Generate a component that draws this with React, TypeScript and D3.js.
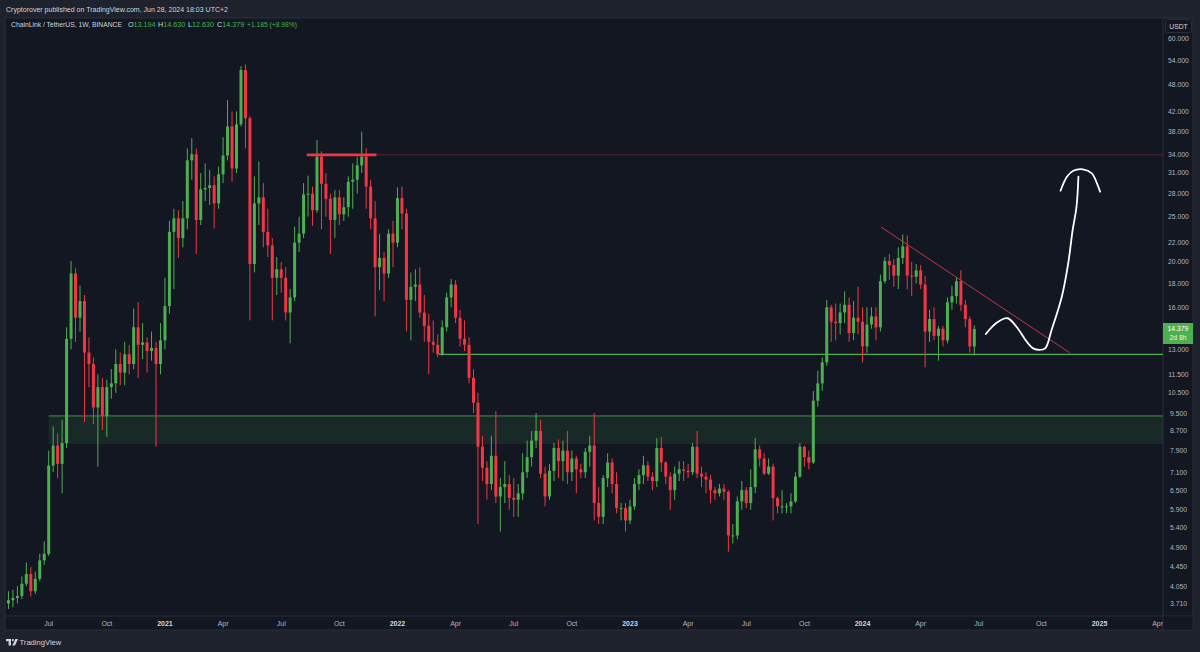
import React from "react";
import * as d3 from "d3";

// weekly candles, LINK/USDT on Binance, first bar week of 4 May 2020, last 24 Jun 2024
const firstWeek = new Date(Date.UTC(2020, 4, 4));
const lastWeek = new Date(Date.UTC(2024, 5, 24));
const firstOpen = 3.72; // later opens are the previous week's close

const close2020 = [3.78, 3.82, 3.86, 4.1, 4.3, 3.95, 4.2, 4.6, 4.75, 7.34,
  8.1, 7.4, 8.2, 13.7, 18.9, 15.2, 16.5, 12.8, 12.1, 9.77,
  10.8, 9.37, 10.8, 11.0, 12.1, 11.6, 12.7, 12.1, 14.5, 13.3,
  13.45, 12.9, 13.1, 12.1, 13.6];
const high2020 = [3.95, 3.98, 4.05, 4.25, 4.55, 4.45, 4.35, 4.75, 5.05, 7.9,
  8.9, 8.6, 9.2, 14.5, 20.1, 19.4, 17.8, 17.0, 13.8, 12.5,
  11.5, 11.3, 11.2, 11.8, 13.0, 12.8, 13.5, 13.3, 15.9, 16.4,
  14.8, 13.8, 14.2, 13.5, 14.8];
const low2020 = [3.62, 3.65, 3.72, 3.8, 4.05, 3.85, 3.9, 4.15, 4.5, 4.7,
  7.1, 6.9, 6.4, 8.0, 13.0, 13.5, 14.2, 9.1, 10.8, 9.0,
  7.3, 8.75, 8.45, 10.2, 10.5, 10.9, 10.9, 11.5, 11.8, 11.3,
  12.4, 11.6, 12.3, 8.05, 11.5];

const close2021 = [16.1, 23.2, 24.8, 22.5, 24.8, 33.0, 34.0, 24.6, 28.6, 28.8,
  29.2, 26.7, 30.8, 33.8, 39.0, 31.7, 39.4, 51.5, 40.6, 19.8,
  26.7, 27.5, 23.2, 21.7, 18.5, 19.3, 18.5, 15.6, 16.8, 22.0,
  23.0, 27.9, 28.0, 25.8, 33.6, 29.4, 27.3, 24.6, 27.5, 25.3,
  26.2, 29.7, 30.0, 32.2, 33.6, 29.0, 24.8, 19.5, 20.4, 18.9,
  23.0, 22.0];
const high2021 = [18.5, 24.5, 26.0, 25.8, 27.0, 35.0, 36.8, 35.0, 31.0, 32.5,
  31.5, 30.5, 32.0, 37.0, 44.4, 42.0, 42.0, 52.5, 52.9, 41.0,
  30.5, 32.8, 29.5, 26.0, 22.5, 20.5, 20.0, 19.5, 17.5, 23.8,
  25.0, 29.5, 30.6, 29.0, 36.5, 34.5, 31.0, 28.0, 28.5, 28.5,
  27.5, 30.5, 32.5, 33.5, 38.0, 35.0, 30.0, 27.0, 23.0, 21.0,
  23.5, 24.5];
const low2021 = [13.0, 15.5, 17.5, 20.4, 21.5, 23.5, 30.0, 20.8, 24.0, 27.0,
  26.5, 23.6, 26.0, 29.5, 33.0, 29.7, 31.0, 39.0, 35.0, 15.0,
  19.0, 24.0, 21.5, 20.5, 15.0, 17.0, 17.2, 15.0, 13.4, 16.5,
  21.0, 22.5, 25.0, 23.9, 25.5, 23.5, 25.0, 20.8, 22.5, 24.0,
  24.5, 25.0, 26.0, 28.0, 31.0, 26.0, 23.5, 15.3, 17.4, 16.5,
  18.5, 19.5];

const close2022 = [27.4, 25.4, 16.6, 17.7, 17.9, 15.6, 14.6, 13.5, 13.3, 12.7,
  14.5, 16.8, 17.9, 15.2, 13.7, 13.3, 11.3, 10.0, 8.05, 7.26,
  6.7, 7.7, 6.3, 6.6, 6.7, 6.26, 6.2, 6.4, 7.1, 7.65,
  8.3, 8.7, 7.05, 6.3, 7.15, 8.0, 7.5, 7.9, 7.1, 7.6,
  7.2, 7.1, 7.85, 8.1, 6.1, 5.7, 6.9, 7.45, 6.7, 5.95,
  5.95, 5.6];
const high2022 = [28.9, 29.0, 26.0, 19.0, 19.3, 19.5, 17.0, 15.5, 15.0, 14.0,
  15.0, 17.2, 18.4, 18.3, 15.8, 15.0, 13.8, 11.8, 10.5, 8.5,
  7.5, 8.5, 9.6, 6.9, 7.5, 7.0, 6.9, 6.7, 7.8, 8.3,
  8.7, 9.5, 9.2, 7.3, 7.4, 8.2, 8.35, 8.3, 8.7, 7.9,
  7.7, 7.4, 8.0, 8.5, 9.5, 6.6, 7.0, 7.8, 7.6, 7.1,
  6.1, 6.1];
const low2022 = [21.5, 23.5, 14.2, 13.6, 16.5, 15.2, 13.5, 11.5, 12.8, 12.5,
  12.6, 14.2, 16.0, 14.8, 13.2, 12.9, 11.0, 9.5, 5.5, 6.8,
  6.2, 6.5, 6.1, 5.3, 6.1, 5.9, 5.7, 5.7, 6.2, 6.9,
  7.3, 8.0, 6.9, 6.0, 6.2, 6.8, 6.9, 6.8, 6.7, 6.8,
  6.4, 6.9, 6.9, 7.3, 5.6, 5.5, 5.5, 6.6, 6.4, 5.8,
  5.6, 5.3];

const close2023 = [6.0, 6.7, 7.0, 7.35, 6.95, 6.8, 8.0, 7.45, 6.95, 6.5,
  7.05, 7.2, 7.15, 7.1, 8.05, 7.05, 6.95, 6.85, 6.5, 6.4,
  6.55, 6.45, 5.2, 5.2, 6.15, 6.5, 6.1, 6.6, 7.95, 7.6,
  7.05, 7.3, 6.25, 6.0, 6.0, 6.0, 6.15, 6.95, 8.05, 7.65,
  7.45, 10.1, 11.0, 12.2, 16.0, 14.9, 14.8, 15.6, 16.2, 14.1,
  15.2, 14.9];
const high2023 = [6.2, 6.9, 7.2, 7.7, 7.5, 7.1, 8.4, 8.45, 7.5, 7.1,
  7.3, 7.5, 7.5, 7.4, 8.2, 8.7, 7.3, 7.1, 7.0, 6.6,
  6.7, 6.7, 6.5, 5.5, 6.3, 6.8, 6.6, 7.2, 8.4, 8.1,
  7.8, 7.6, 7.4, 6.3, 6.5, 6.1, 6.4, 7.1, 8.2, 8.1,
  7.9, 10.6, 11.7, 12.5, 16.6, 16.2, 16.3, 16.3, 17.3, 16.8,
  16.5, 17.7];
const low2023 = [5.5, 5.9, 6.5, 6.7, 6.8, 6.5, 6.6, 7.1, 6.7, 5.9,
  6.2, 6.8, 6.8, 6.9, 7.0, 6.9, 6.6, 6.4, 6.1, 6.2,
  6.3, 6.2, 4.8, 5.0, 5.1, 5.9, 5.95, 5.9, 6.4, 7.3,
  7.0, 7.0, 5.6, 5.8, 5.8, 5.8, 5.8, 6.1, 6.9, 7.3,
  7.2, 7.4, 9.8, 10.6, 12.0, 13.5, 13.6, 14.0, 14.8, 13.5,
  13.6, 14.0];

const close2024 = [13.2, 14.7, 15.3, 14.5, 18.2, 20.1, 19.7, 18.7, 20.4, 21.6,
  18.7, 18.6, 19.2, 17.9, 14.2, 15.1, 13.9, 14.4, 13.6, 16.4,
  16.9, 18.2, 16.2, 15.1, 13.194, 14.379];
const high2024 = [16.0, 16.0, 16.0, 16.0, 18.8, 20.5, 20.8, 20.3, 21.5, 22.9,
  22.8, 20.0, 19.8, 19.7, 18.7, 15.8, 16.0, 14.6, 14.6, 16.8,
  17.8, 18.5, 19.2, 16.6, 15.3, 14.63];
const low2024 = [12.2, 12.8, 14.4, 13.6, 14.2, 18.0, 18.3, 17.7, 17.5, 19.8,
  17.5, 16.9, 18.0, 17.5, 11.9, 13.5, 13.6, 12.3, 13.2, 13.4,
  15.8, 16.3, 15.7, 14.5, 12.8, 12.63];

const priceTicks = [60, 54, 48, 42, 38, 34, 31, 28, 25, 22, 20, 18, 16, 13,
  11.5, 10.5, 9.5, 8.7, 7.9, 7.1, 6.5, 5.9, 5.4, 4.9, 4.45, 4.05, 3.71];

const timeTickDates = ["2020-07-06", "2020-10-05", "2021-01-04", "2021-04-05", "2021-07-05",
  "2021-10-04", "2022-01-03", "2022-04-04", "2022-07-04", "2022-10-03", "2023-01-02",
  "2023-04-03", "2023-07-03", "2023-10-02", "2024-01-01", "2024-04-01", "2024-07-01",
  "2024-10-07", "2025-01-06", "2025-04-07"];
const timeTickLabels = ["Jul", "Oct", "2021", "Apr", "Jul", "Oct", "2022", "Apr", "Jul", "Oct",
  "2023", "Apr", "Jul", "Oct", "2024", "Apr", "Jul", "Oct", "2025", "Apr"];

// hand drawn path after the last bar: [days after last bar, price]
const squiggle = [[18, 14.03], [35, 14.83], [52, 15.16], [66, 14.54], [82, 13.51], [92, 13.07],
  [102, 12.97], [111, 13.07], [121, 14.31], [137, 16.86], [147, 19.87], [154, 23.42],
  [160, 26.26], [163, 30.45]];
const squiggleCap = [[135, 28.42], [145, 30.45], [155, 31.36], [170, 31.58], [184, 30.96],
  [192, 29.47], [197, 28.28]];

const UP = "#4caf50";
const DOWN = "#f23645";
const FONT = "'Liberation Sans', Arial, sans-serif";

const utc = (s: string) => new Date(s + "T00:00:00Z");

const App: React.FC = () => {
  const W = 1200;
  const H = 652;
  const pane = { x0: 5, x1: 1163, y0: 18, y1: 616 };

  const closes = [...close2020, ...close2021, ...close2022, ...close2023, ...close2024];
  const highs = [...high2020, ...high2021, ...high2022, ...high2023, ...high2024];
  const lows = [...low2020, ...low2021, ...low2022, ...low2023, ...low2024];
  const weeks = d3.utcMonday.range(firstWeek, d3.utcDay.offset(lastWeek, 1));
  const bars = weeks.map((d, i) => ({
    d,
    o: i === 0 ? firstOpen : closes[i - 1],
    c: closes[i],
    h: highs[i],
    l: lows[i],
  }));

  const x = d3.scaleUtc().domain([utc("2020-07-06"), lastWeek]).range([48.7, 974.3]);
  const y = d3.scaleLog().domain([3.71, 60]).range([604, 39]);
  const after = (days: number) => x(lastWeek.getTime() + days * 864e5);

  const line = d3.line<number[]>()
    .x((p) => after(p[0]))
    .y((p) => y(p[1]))
    .curve(d3.curveCatmullRom.alpha(0.5));

  const last = bars[bars.length - 1];
  const bodyW = 3;
  const chg = last.c - last.o;

  return (
    <svg width={W} height={H} style={{ position: "fixed", left: 0, top: 0 }} fontFamily={FONT}>
      <defs>
        <clipPath id="pane">
          <rect x={pane.x0} y={pane.y0} width={pane.x1 - pane.x0} height={pane.y1 - pane.y0} />
        </clipPath>
      </defs>
      <rect width={W} height={H} fill="#1e222d" />
      <text x={6} y={12} fontSize={7.3} fill="#d1d4dc" textLength={222} lengthAdjust="spacingAndGlyphs">
        Cryptorover published on TradingView.com, Jun 28, 2024 18:03 UTC+2
      </text>

      {/* chart pane + axes */}
      <rect x={pane.x0} y={pane.y0} width={1193 - pane.x0} height={630 - pane.y0} fill="#131722" stroke="#2a2e39" />
      <line x1={pane.x1} x2={pane.x1} y1={pane.y0} y2={630} stroke="#2a2e39" />
      <line x1={pane.x0} x2={1193} y1={pane.y1} y2={pane.y1} stroke="#2a2e39" />

      <g clipPath="url(#pane)">
        {/* support zone */}
        <rect x={x(utc("2020-07-06"))} width={pane.x1 - x(utc("2020-07-06"))}
          y={y(9.37)} height={y(8.16) - y(9.37)} fill="#4caf50" fillOpacity={0.12} />
        <line x1={x(utc("2020-07-06"))} x2={pane.x1} y1={y(9.37)} y2={y(9.37)} stroke={UP} strokeWidth={1} strokeOpacity={0.8} />

        {/* resistance 34 */}
        <line x1={x(utc("2021-12-01"))} x2={pane.x1} y1={y(33.9)} y2={y(33.9)} stroke={DOWN} strokeOpacity={0.35} strokeWidth={1} />

        {/* support 12.7 */}
        <line x1={x(utc("2022-03-09"))} x2={pane.x1} y1={y(12.69)} y2={y(12.69)} stroke={UP} strokeWidth={1.3} />

        {bars.map((b, i) => {
          const cx = x(b.d);
          const col = b.c >= b.o ? UP : DOWN;
          const top = y(Math.max(b.o, b.c));
          const bot = y(Math.min(b.o, b.c));
          return (
            <g key={i}>
              <line x1={cx} x2={cx} y1={y(b.h)} y2={y(b.l)} stroke={col} strokeWidth={1} />
              <rect x={cx - bodyW / 2} y={top} width={bodyW} height={Math.max(1, bot - top)} fill={col} />
            </g>
          );
        })}

        <line x1={x(utc("2021-08-14"))} x2={x(utc("2021-12-01"))} y1={y(33.9)} y2={y(33.9)} stroke={DOWN} strokeWidth={2.6} />

        {/* falling trendline */}
        <line x1={x(utc("2024-01-30"))} y1={y(23.76)} x2={x(utc("2024-11-20"))} y2={y(12.8)}
          stroke="#e0404e" strokeWidth={1} strokeOpacity={0.85} />

        <path d={line(squiggle) || ""} fill="none" stroke="#ffffff" strokeWidth={1.8} strokeLinecap="round" strokeLinejoin="round" />
        <path d={line(squiggleCap) || ""} fill="none" stroke="#ffffff" strokeWidth={1.8} strokeLinecap="round" />
      </g>

      {/* legend */}
      <g fontSize={7.2}>
        <text x={11} y={27} fill="#d1d4dc" textLength={111} lengthAdjust="spacingAndGlyphs">
          ChainLink / TetherUS, 1W, BINANCE
        </text>
        <text x={128} y={27} fill="#d1d4dc">O<tspan fill={UP}>{last.o.toFixed(3)}</tspan></text>
        <text x={158} y={27} fill="#d1d4dc">H<tspan fill={UP}>{last.h.toFixed(3)}</tspan></text>
        <text x={188} y={27} fill="#d1d4dc">L<tspan fill={UP}>{last.l.toFixed(3)}</tspan></text>
        <text x={217} y={27} fill="#d1d4dc">C<tspan fill={UP}>{last.c.toFixed(3)}</tspan></text>
        <text x={247} y={27} fill={UP} textLength={50} lengthAdjust="spacingAndGlyphs">
          {`+${chg.toFixed(3)} (+${((chg / last.o) * 100).toFixed(2)}%)`}
        </text>
      </g>

      {/* price axis */}
      <rect x={1165.5} y={19.5} width={26} height={13} rx={2} fill="#131722" stroke="#2a2e39" />
      <text x={1178.5} y={28.5} fontSize={6.8} fill="#d1d4dc" textAnchor="middle">USDT</text>
      {priceTicks.map((p) => (
        <text key={p} x={1178.5} y={y(p) + 2.4} fontSize={6.8} fill="#b2b5be" textAnchor="middle">
          {p.toFixed(3)}
        </text>
      ))}
      <rect x={1163} y={y(last.c) - 6} width={30} height={21} fill={UP} />
      <text x={1178} y={y(last.c) + 2.2} fontSize={6.8} fill="#ffffff" textAnchor="middle">{last.c.toFixed(3)}</text>
      <text x={1178} y={y(last.c) + 11.5} fontSize={6.8} fill="#e8f5e9" textAnchor="middle">2d 8h</text>

      {/* time axis */}
      {timeTickDates.map((s, i) => {
        const yr = /^\d{4}$/.test(timeTickLabels[i]);
        return (
          <text key={s} x={x(utc(s))} y={626} fontSize={7} textAnchor="middle"
            fill={yr ? "#d1d4dc" : "#b2b5be"} fontWeight={yr ? "bold" : "normal"}>
            {timeTickLabels[i]}
          </text>
        );
      })}
      <rect x={pane.x1 + 0.5} y={pane.y1 + 0.5} width={29} height={13} fill="#131722" />

      {/* footer logo */}
      <g fill="#d1d4dc">
        <rect x={6} y={639} width={5} height={2.2} />
        <rect x={8.6} y={639} width={2.4} height={6.5} />
        <circle cx={12.8} cy={640.1} r={1.1} />
        <polygon points="15.3,639 18,639 15,645.5 12.3,645.5" />
        <text x={19.5} y={645.3} fontSize={7.6}>TradingView</text>
      </g>
    </svg>
  );
};

export default App;
